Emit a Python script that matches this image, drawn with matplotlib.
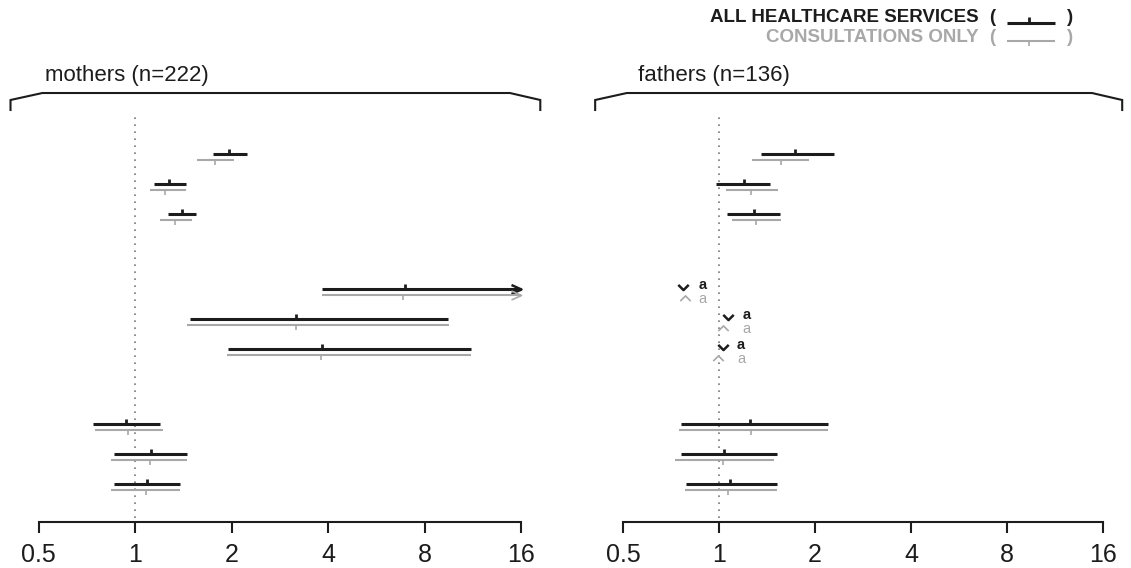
import numpy as np
import matplotlib
matplotlib.use("Agg")
import matplotlib.pyplot as plt
from matplotlib.lines import Line2D

plt.rcParams["font.family"] = ["Liberation Sans", "DejaVu Sans"]

W, H = 1131, 568

panels = ["mothers", "fathers"]
panel_n = [222, 136]
ticks = [0.5, 1, 2, 4, 8, 16]
tick_labels = ["0.5", "1", "2", "4", "8", "16"]
block_sizes = [3, 3, 3]

# all healthcare services (black)
mothers_all_est = [1.97, 1.28, 1.40, 6.97, 3.18, 3.83, 0.94, 1.12, 1.09]
mothers_all_lo = [1.75, 1.15, 1.27, 3.82, 1.48, 1.95, 0.74, 0.86, 0.86]
mothers_all_hi = [2.24, 1.44, 1.55, 20.0, 9.45, 11.2, 1.20, 1.45, 1.38]
fathers_all_est = [1.73, 1.20, 1.29, 0.77, 1.07, 1.03, 1.25, 1.04, 1.08]
fathers_all_lo = [1.35, 0.98, 1.06, np.nan, np.nan, np.nan, 0.76, 0.76, 0.79]
fathers_all_hi = [2.30, 1.45, 1.55, np.nan, np.nan, np.nan, 2.19, 1.52, 1.52]

# consultations only (grey)
mothers_con_est = [1.78, 1.24, 1.33, 6.84, 3.17, 3.80, 0.95, 1.11, 1.08]
mothers_con_lo = [1.56, 1.11, 1.20, 3.82, 1.45, 1.94, 0.75, 0.84, 0.84]
mothers_con_hi = [2.04, 1.44, 1.51, 20.0, 9.56, 11.15, 1.22, 1.45, 1.38]
fathers_con_est = [1.57, 1.26, 1.31, 0.78, 1.03, 0.99, 1.26, 1.03, 1.07]
fathers_con_lo = [1.27, 1.05, 1.10, np.nan, np.nan, np.nan, 0.75, 0.73, 0.78]
fathers_con_hi = [1.92, 1.53, 1.56, np.nan, np.nan, np.nan, 2.20, 1.49, 1.52]

fathers_flag = ["", "", "", "a", "a", "a", "", "", ""]
mothers_flag = [""] * 9

BLACK = "#1c1c1c"
GREY = "#a8a8a8"

data = {
    "mothers": ((mothers_all_est, mothers_all_lo, mothers_all_hi),
                (mothers_con_est, mothers_con_lo, mothers_con_hi), mothers_flag),
    "fathers": ((fathers_all_est, fathers_all_lo, fathers_all_hi),
                (fathers_con_est, fathers_con_lo, fathers_con_hi), fathers_flag),
}

# row positions: blocks of rows separated by a gap
row_y = []
start = 0.0
for size in block_sizes:
    row_y += [start + i for i in range(size)]
    start += size + 1.5

UP_TICK = [(0, 0), (0, 1)]
DOWN_TICK = [(0, 0), (0, -1)]
ARROW = [(-1, 0.45), (0, 0), (-1, -0.45)]
CHEV_DOWN = [(-1, 0.5), (0, -0.5), (1, 0.5)]
CHEV_UP = [(-1, -0.5), (0, 0.5), (1, -0.5)]

fig = plt.figure(figsize=(W / 100, H / 100), dpi=100)

axes_px = [(38.5, 482.5), (623, 480)]
y_bottom, y_top = 522, 93


def draw_series(ax, est, lo, hi, flags, dy, color, lw, tick, tick_ms, tick_mew,
                chev, chev_dy, chev_lw):
    for y, e, l, h, f in zip(row_y, est, lo, hi, flags):
        yy = y + dy
        if np.isfinite(l) and np.isfinite(h):
            hh = min(h, 16)
            ax.plot([l, hh], [yy, yy], color=color, lw=lw, solid_capstyle="butt",
                    clip_on=False, zorder=3)
            if h > 16:
                ax.plot([16], [yy], marker=ARROW, ms=14.4, mew=lw * 0.8, mfc="none",
                        mec=color, clip_on=False, zorder=3)
            ax.plot([e], [yy], marker=tick, ms=tick_ms, mew=tick_mew, mec=color,
                    clip_on=False, zorder=4)
        else:
            ax.plot([e], [y + chev_dy], marker=chev, ms=7.5, mew=chev_lw, mfc="none",
                    mec=color, clip_on=False, zorder=4)


for k, name in enumerate(panels):
    x0, w = axes_px[k]
    ax = fig.add_axes([x0 / W, (H - y_bottom) / H, w / W, (y_bottom - y_top) / H])
    ax.set_xscale("log", base=2)
    ax.set_xlim(0.5, 16)
    ax.set_ylim((y_bottom - 154.3) / 30, (y_top - 154.3) / 30)
    for s in ["top", "left", "right"]:
        ax.spines[s].set_visible(False)
    ax.spines["bottom"].set_linewidth(1.5)
    ax.spines["bottom"].set_color(BLACK)
    ax.set_xticks(ticks)
    ax.set_xticklabels(tick_labels)
    ax.xaxis.set_minor_locator(matplotlib.ticker.NullLocator())
    ax.tick_params(axis="x", direction="out", length=8, width=1.5, color=BLACK,
                   labelsize=18, pad=7, labelcolor=BLACK)
    ax.set_yticks([])
    ax.patch.set_alpha(0)

    ax.axvline(1, ymin=0.01, ymax=0.944, color="#7a7a7a", lw=1.2,
               ls=(0, (1, 3.2)), zorder=1)

    # bracket on top
    bx = 2.0 ** np.array([-1.29, -1.29, -0.96, 3.885, 4.2, 4.2])
    by = np.array([-1.477, -1.81, -2.043, -2.043, -1.81, -1.477])
    ax.plot(bx, by, color=BLACK, lw=1.5, clip_on=False, solid_joinstyle="miter")

    title_x = [-0.93, -0.84][k]
    ax.text(2.0 ** title_x, -2.64, f"{name} (n={panel_n[k]})", fontsize=16,
            ha="left", va="center", color=BLACK, clip_on=False)

    all_s, con_s, flags = data[name]
    draw_series(ax, *all_s, flags, 0.0, BLACK, 2.2, UP_TICK, 7.5, 2.0,
                CHEV_DOWN, -0.09, 1.8)
    draw_series(ax, *con_s, flags, 0.2, GREY, 1.5, DOWN_TICK, 7.5, 1.2,
                CHEV_UP, 0.29, 1.2)

    # flag letters next to the chevrons
    for y, ea, ec, f in zip(row_y, all_s[0], con_s[0], flags):
        if f:
            xa = max(ea, ec) * 2 ** (18 / 96)
            ax.text(xa, y - 0.14, f, fontsize=10.5, fontweight="bold", color=BLACK,
                    ha="center", va="center", clip_on=False)
            ax.text(xa, y + 0.32, f, fontsize=10.5, color=GREY,
                    ha="center", va="center", clip_on=False)


# legend in pixel coordinates at top right
def fx(px):
    return px / W


def fy(py):
    return 1 - py / H


legend_rows = [("ALL HEALTHCARE SERVICES", BLACK, 18, 23, -6, 2.2, 2.0),
               ("CONSULTATIONS ONLY", GREY, 38, 41, 5, 1.5, 1.2)]
for label, color, ty, ly, tick_len, lw, tlw in legend_rows:
    fig.text(fx(979), fy(ty), label, fontsize=13.5, fontweight="bold", color=color,
             ha="right", va="center")
    fig.text(fx(992), fy(ty), "(", fontsize=13.5, fontweight="bold", color=color,
             ha="center", va="center")
    fig.text(fx(1070), fy(ty), ")", fontsize=13.5, fontweight="bold", color=color,
             ha="center", va="center")
    fig.add_artist(Line2D([fx(1007), fx(1055)], [fy(ly), fy(ly)], color=color, lw=lw,
                          solid_capstyle="butt"))
    fig.add_artist(Line2D([fx(1029), fx(1029)], [fy(ly), fy(ly + tick_len)], color=color,
                          lw=tlw, solid_capstyle="butt"))

fig.savefig("out.png", dpi=100, facecolor="white")
